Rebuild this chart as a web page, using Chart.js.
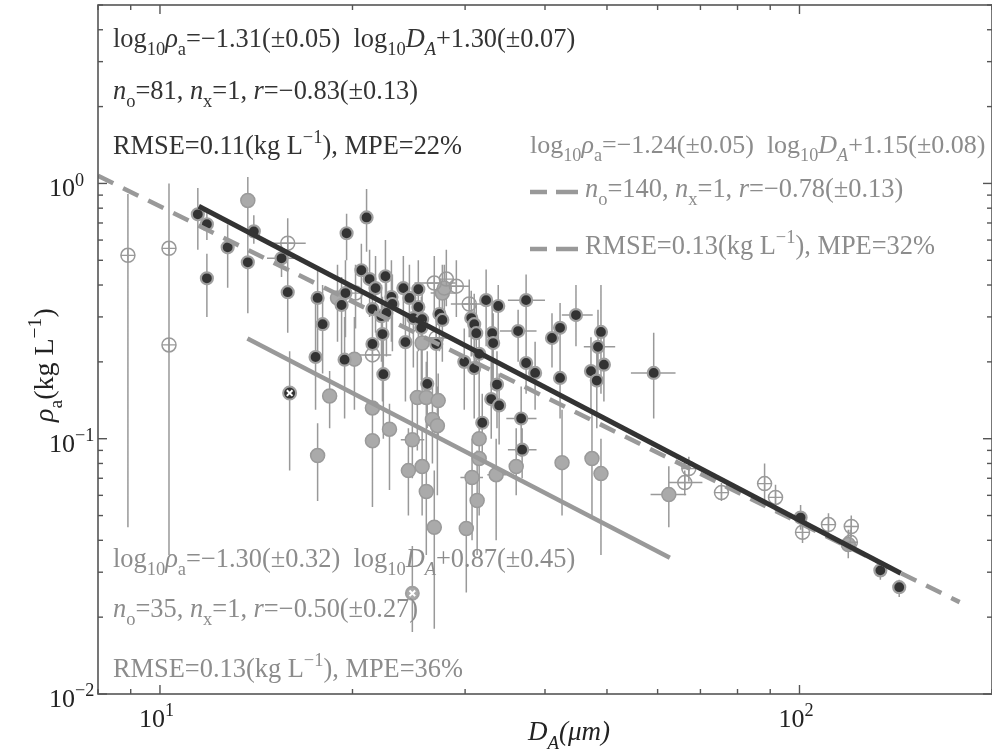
<!DOCTYPE html>
<html>
<head>
<meta charset="utf-8">
<script src="https://cdn.jsdelivr.net/npm/chart.js@4.4.0/dist/chart.umd.min.js"></script>
<style>
  html, body { margin: 0; padding: 0; background: #fff; }
  canvas { display: block; }
</style>
</head>
<body>
<canvas id="myChart" width="992" height="753"></canvas>
<script>
// dark (selected) observations
const darkD = [11.46, 11.84, 12.76, 11.84, 13.72, 14.02, 15.49, 15.84, 17.64, 17.96, 17.51, 19.44, 19.58, 21.04, 19.50, 19.23, 20.65, 21.27, 21.73, 22.52, 21.49, 22.20, 22.28, 21.49, 22.35, 23.01, 23.09, 22.60, 24.02, 25.35, 24.55, 25.35, 24.90, 25.70, 25.63, 24.20, 27.04, 27.35, 27.64, 32.36, 33.80, 37.37, 30.67, 31.00, 31.23, 33.07, 33.19, 36.31, 29.91, 31.00, 37.37, 38.60, 31.56, 41.02, 42.23, 44.72, 48.93, 48.41, 49.45, 47.20, 42.23, 48.20, 59.16, 26.18, 32.96, 33.65, 33.91, 31.91, 36.71, 36.84, 100.4, 133.8, 143.2];
const darkRho = [0.757, 0.692, 0.562, 0.425, 0.491, 0.649, 0.509, 0.375, 0.356, 0.281, 0.209, 0.204, 0.638, 0.736, 0.372, 0.334, 0.457, 0.422, 0.389, 0.433, 0.322, 0.302, 0.257, 0.235, 0.179, 0.359, 0.337, 0.311, 0.389, 0.385, 0.356, 0.328, 0.297, 0.294, 0.272, 0.239, 0.235, 0.308, 0.292, 0.349, 0.331, 0.349, 0.297, 0.281, 0.259, 0.259, 0.237, 0.264, 0.200, 0.189, 0.198, 0.181, 0.215, 0.248, 0.272, 0.305, 0.262, 0.229, 0.195, 0.184, 0.173, 0.169, 0.181, 0.164, 0.143, 0.163, 0.135, 0.1155, 0.120, 0.0906, 0.0491, 0.0305, 0.0262];
const darkLo = [0.55, 0.60, 0.39, 0.30, 0.31, 0.58, 0.43, 0.26, 0.22, 0.18, 0.13, 0.12, 0.50, 0.54, 0.25, 0.20, 0.33, 0.30, 0.26, 0.30, 0.22, 0.20, 0.14, 0.15, 0.10, 0.24, 0.22, 0.21, 0.27, 0.28, 0.25, 0.22, 0.19, 0.20, 0.17, 0.14, 0.15, 0.22, 0.20, 0.23, 0.24, 0.26, 0.21, 0.20, 0.18, 0.17, 0.16, 0.20, 0.13, 0.12, 0.15, 0.13, 0.15, 0.19, 0.20, 0.23, 0.15, 0.16, 0.14, 0.13, 0.12, 0.11, 0.12, 0.11, 0.10, 0.11, 0.095, 0.08, 0.085, 0.07, 0.044, 0.028, 0.024];
const darkHi = [0.96, 0.80, 0.69, 0.53, 0.62, 0.75, 0.56, 0.64, 0.47, 0.40, 0.34, 0.30, 0.76, 0.95, 0.50, 0.43, 0.58, 0.55, 0.52, 0.60, 0.44, 0.40, 0.36, 0.32, 0.26, 0.50, 0.44, 0.42, 0.52, 0.50, 0.48, 0.44, 0.40, 0.38, 0.36, 0.31, 0.31, 0.40, 0.38, 0.46, 0.40, 0.44, 0.38, 0.37, 0.34, 0.33, 0.31, 0.32, 0.27, 0.26, 0.26, 0.24, 0.28, 0.31, 0.34, 0.40, 0.40, 0.32, 0.26, 0.25, 0.24, 0.23, 0.26, 0.22, 0.20, 0.22, 0.18, 0.15, 0.16, 0.11, 0.055, 0.033, 0.028];

// gray observations
const grayD = [13.72, 18.95, 20.14, 18.42, 17.64, 21.49, 21.49, 22.85, 24.81, 25.26, 26.09, 27.23, 26.67, 27.15, 24.46, 25.70, 26.09, 26.85, 31.56, 31.56, 30.76, 31.33, 30.13, 33.55, 36.06, 42.53, 47.37, 48.93, 62.47, 27.64, 25.70, 27.84, 119.2];
const grayRho = [0.858, 0.356, 0.205, 0.147, 0.0859, 0.132, 0.0982, 0.109, 0.099, 0.145, 0.145, 0.141, 0.119, 0.1125, 0.075, 0.0778, 0.0621, 0.045, 0.100, 0.0836, 0.0705, 0.0573, 0.0445, 0.0723, 0.0778, 0.0806, 0.0836, 0.0730, 0.0604, 0.372, 0.237, 0.389, 0.0385];
const grayLo = [0.50, 0.24, 0.13, 0.11, 0.057, 0.10, 0.054, 0.063, 0.07, 0.09, 0.10, 0.10, 0.08, 0.06, 0.05, 0.05, 0.035, 0.018, 0.06, 0.05, 0.04, 0.035, 0.025, 0.04, 0.06, 0.05, 0.05, 0.035, 0.045, 0.25, 0.15, 0.30, 0.034];
const grayHi = [1.06, 0.48, 0.30, 0.184, 0.115, 0.18, 0.18, 0.137, 0.15, 0.22, 0.20, 0.18, 0.16, 0.16, 0.11, 0.11, 0.10, 0.075, 0.15, 0.12, 0.10, 0.09, 0.07, 0.10, 0.11, 0.13, 0.13, 0.10, 0.078, 0.48, 0.32, 0.48, 0.044];

// open circles with cross
const openD = [8.91, 10.33, 10.33, 15.84, 21.49, 20.22, 26.85, 28.04, 29.07, 30.45, 27.04, 67.14, 66.16, 75.51, 88.19, 91.73, 101.1, 111.0, 120.5, 120.1];
const openRho = [0.523, 0.557, 0.233, 0.583, 0.213, 0.372, 0.407, 0.422, 0.396, 0.337, 0.248, 0.0764, 0.0673, 0.0615, 0.0667, 0.0589, 0.0430, 0.0461, 0.0453, 0.0393];
const openLo = [0.045, 0.33, 0.035, 0.42, 0.15, 0.27, 0.30, 0.33, 0.30, 0.25, 0.18, 0.068, 0.060, 0.057, 0.057, 0.052, 0.039, 0.042, 0.041, 0.036];
const openHi = [0.91, 1.00, 0.33, 0.73, 0.28, 0.48, 0.52, 0.55, 0.50, 0.42, 0.32, 0.085, 0.075, 0.067, 0.080, 0.066, 0.048, 0.051, 0.050, 0.044];

// rejected points (circle with x)
const xD = [15.95, 24.81];
const xRho = [0.151, 0.0248];
const xLo = [0.075, 0.0175];
const xHi = [0.22, 0.038];

// horizontal error bars
const hbRho = [0.509, 0.349, 0.264, 0.305, 0.229, 0.181, 0.120, 0.0906, 0.099, 0.0604, 0.0705, 0.0723, 0.372, 0.213, 0.407, 0.396, 0.337, 0.583, 0.248, 0.0673];
const hbLo = [14.7, 35.0, 34.0, 42.5, 46.0, 54.5, 34.8, 35.0, 23.8, 58.5, 29.5, 32.5, 26.5, 20.4, 25.0, 27.8, 28.5, 14.9, 25.5, 62.5];
const hbHi = [16.3, 40.0, 38.8, 47.5, 51.5, 64.0, 38.8, 38.8, 25.9, 66.5, 32.0, 34.8, 29.0, 23.0, 29.0, 30.5, 32.5, 16.9, 28.8, 70.5];

// fitted lines (end points)
const fitDarkD = [11.5, 144];
const fitDarkRho = [0.814, 0.0297];
const fitAllD = [8, 178];
const fitAllRho = [1.072, 0.0229];
const fitGrayD = [13.7, 62.7];
const fitGrayRho = [0.247, 0.0342];

// ticks
const xMajor = [10, 100];
const xMinor = [8, 9, 20, 30, 40, 50, 60, 70, 80, 90, 200];
const yMajor = [0.01, 0.1, 1];
const yMinor = [0.02, 0.03, 0.04, 0.05, 0.06, 0.07, 0.08, 0.09, 0.2, 0.3, 0.4, 0.5, 0.6, 0.7, 0.8, 0.9, 2, 3, 4, 5];

// annotation texts: [text, style] where i = italic, b = subscript, p = superscript
const darkText = [
  [["log", ""], ["10", "b"], ["ρ", "i"], ["a", "b"], ["=−1.31(±0.05)  log", ""], ["10", "b"], ["D", "i"], ["A", "ib"], ["+1.30(±0.07)", ""]],
  [["n", "i"], ["o", "b"], ["=81, ", ""], ["n", "i"], ["x", "b"], ["=1, ", ""], ["r", "i"], ["=−0.83(±0.13)", ""]],
  [["RMSE=0.11(kg L", ""], ["−1", "p"], ["), MPE=22%", ""]]
];
const allText = [
  [["log", ""], ["10", "b"], ["ρ", "i"], ["a", "b"], ["=−1.24(±0.05)  log", ""], ["10", "b"], ["D", "i"], ["A", "ib"], ["+1.15(±0.08)", ""]],
  [["n", "i"], ["o", "b"], ["=140, ", ""], ["n", "i"], ["x", "b"], ["=1, ", ""], ["r", "i"], ["=−0.78(±0.13)", ""]],
  [["RMSE=0.13(kg L", ""], ["−1", "p"], ["), MPE=32%", ""]]
];
const grayText = [
  [["log", ""], ["10", "b"], ["ρ", "i"], ["a", "b"], ["=−1.30(±0.32)  log", ""], ["10", "b"], ["D", "i"], ["A", "ib"], ["+0.87(±0.45)", ""]],
  [["n", "i"], ["o", "b"], ["=35, ", ""], ["n", "i"], ["x", "b"], ["=1, ", ""], ["r", "i"], ["=−0.50(±0.27)", ""]],
  [["RMSE=0.13(kg L", ""], ["−1", "p"], ["), MPE=36%", ""]]
];
const yTitle = [["ρ", "i"], ["a", "b"], ["(kg L", ""], ["−1", "p"], [")", ""]];
const xTitle = [["D", "i"], ["A", "ib"], ["(μm)", "i"]];

const DARK = "#333333";
const GRAY = "#999999";
const TXT_GRAY = "#8c8c8c";
const FONT = '"Liberation Serif", "Times New Roman", serif';

const pts = (xs, ys) => xs.map((x, i) => ({ x: x, y: ys[i] }));

const vBars = (xs, lo, hi) => {
  let out = [];
  xs.forEach((x, i) => {
    out.push({ x: x, y: lo[i] }, { x: x, y: hi[i] }, { x: x, y: null });
  });
  return out;
};

const hBars = (ys, lo, hi) => {
  let out = [];
  ys.forEach((y, i) => {
    out.push({ x: lo[i], y: y }, { x: hi[i], y: y }, { x: hi[i], y: null });
  });
  return out;
};

const rich = (ctx, x, y, segs, size) => {
  let cx = x;
  segs.forEach(([t, s]) => {
    const small = s.includes("b") || s.includes("p");
    const fs = small ? size * 0.7 : size;
    const dy = s.includes("b") ? size * 0.32 : (s.includes("p") ? -size * 0.42 : 0);
    ctx.font = (s.includes("i") ? "italic " : "") + fs + "px " + FONT;
    ctx.fillText(t, cx, y + dy);
    cx += ctx.measureText(t).width;
  });
  return cx;
};

const framePlugin = {
  id: "frame",
  afterDraw(chart) {
    const ctx = chart.ctx;
    const a = chart.chartArea;
    const xs = chart.scales.x;
    const ys = chart.scales.y;
    ctx.save();

    // box
    ctx.strokeStyle = "#555";
    ctx.lineWidth = 1.6;
    ctx.strokeRect(a.left, a.top, a.right - a.left, a.bottom - a.top);

    // ticks
    const tick = (x1, y1, x2, y2) => {
      ctx.beginPath();
      ctx.moveTo(x1, y1);
      ctx.lineTo(x2, y2);
      ctx.stroke();
    };
    ctx.lineWidth = 1.4;
    [[xMajor, 9], [xMinor, 5]].forEach(([vals, len]) => {
      vals.forEach(v => {
        const px = xs.getPixelForValue(v);
        tick(px, a.bottom, px, a.bottom - len);
        tick(px, a.top, px, a.top + len);
      });
    });
    [[yMajor, 9], [yMinor, 5]].forEach(([vals, len]) => {
      vals.forEach(v => {
        const py = ys.getPixelForValue(v);
        tick(a.left, py, a.left + len, py);
        tick(a.right, py, a.right - len, py);
      });
    });

    // tick labels
    ctx.fillStyle = "#222";
    ctx.textBaseline = "alphabetic";
    ctx.textAlign = "left";
    const size = 26.4;
    xMajor.forEach(v => {
      const px = xs.getPixelForValue(v);
      rich(ctx, px - 21, 727, [["10", ""], [String(Math.round(Math.log10(v))), "p"]], 26);
    });
    yMajor.forEach(v => {
      const py = ys.getPixelForValue(v);
      const e = Math.round(Math.log10(v));
      const sup = e < 0 ? "−" + (-e) : String(e);
      rich(ctx, 49, py + 13, [["10", ""], [sup, "p"]], 26);
    });

    // axis titles
    ctx.fillStyle = "#222";
    rich(ctx, 528, 740, xTitle, 27);
    ctx.save();
    ctx.translate(53, 422);
    ctx.rotate(-Math.PI / 2);
    rich(ctx, 0, 0, yTitle, 28);
    ctx.restore();

    // annotations
    ctx.fillStyle = DARK;
    [47, 99, 154].forEach((b, i) => rich(ctx, 113, b, darkText[i], size));
    ctx.fillStyle = TXT_GRAY;
    rich(ctx, 530, 153, allText[0], 26);
    rich(ctx, 585, 197, allText[1], size);
    rich(ctx, 585, 254, allText[2], size);
    [567, 617, 677].forEach((b, i) => rich(ctx, 113, b, grayText[i], size));

    // legend dashes
    ctx.strokeStyle = GRAY;
    ctx.lineWidth = 4.5;
    [192, 249].forEach(y => {
      tick(530, y, 547, y);
      tick(556, y, 578, y);
    });
    ctx.restore();
  }
};

const ctx = document.getElementById("myChart").getContext("2d");
const myChart = new Chart(ctx, {
  type: "scatter",
  data: {
    datasets: [
      { data: pts(fitDarkD, fitDarkRho), showLine: true, borderColor: DARK, borderWidth: 5, pointRadius: 0, order: 1 },
      { data: pts(fitAllD, fitAllRho), showLine: true, borderColor: GRAY, borderWidth: 4.5, borderDash: [17, 11], pointRadius: 0, order: 1 },
      { data: pts(fitGrayD, fitGrayRho), showLine: true, borderColor: GRAY, borderWidth: 4.5, pointRadius: 0, order: 1 },
      { data: pts(xD, xRho), pointStyle: "crossRot", pointRadius: 4, borderColor: "#fff", borderWidth: 2, order: 2 },
      { data: pts(xD, xRho), pointRadius: 6.5, backgroundColor: [DARK, "#aaaaaa"], borderColor: "#a0a0a0", borderWidth: 2, order: 3 },
      { data: pts(darkD, darkRho), pointRadius: 6, backgroundColor: DARK, borderColor: "#a0a0a0", borderWidth: 2.2, order: 4 },
      { data: pts(openD, openRho), pointStyle: "cross", pointRadius: 7, borderColor: GRAY, borderWidth: 1.3, order: 5 },
      { data: pts(openD, openRho), pointRadius: 7, backgroundColor: "rgba(255,255,255,0)", borderColor: GRAY, borderWidth: 1.5, order: 6 },
      { data: pts(grayD, grayRho), pointRadius: 7, backgroundColor: "#aaaaaa", borderColor: "#9a9a9a", borderWidth: 1.5, order: 7 },
      { data: vBars(darkD.concat(grayD, openD, xD), darkLo.concat(grayLo, openLo, xLo), darkHi.concat(grayHi, openHi, xHi)), showLine: true, spanGaps: false, borderColor: GRAY, borderWidth: 1.5, pointRadius: 0, order: 10 },
      { data: hBars(hbRho, hbLo, hbHi), showLine: true, spanGaps: false, borderColor: GRAY, borderWidth: 1.5, pointRadius: 0, order: 10 }
    ]
  },
  options: {
    responsive: false,
    animation: false,
    events: [],
    layout: { autoPadding: false, padding: { left: 98, top: 5, right: 0, bottom: 59 } },
    plugins: { legend: { display: false }, tooltip: { enabled: false } },
    scales: {
      x: { type: "logarithmic", min: 8, max: 200, display: false },
      y: { type: "logarithmic", min: 0.01, max: 5, display: false }
    }
  },
  plugins: [framePlugin]
});
</script>
</body>
</html>
